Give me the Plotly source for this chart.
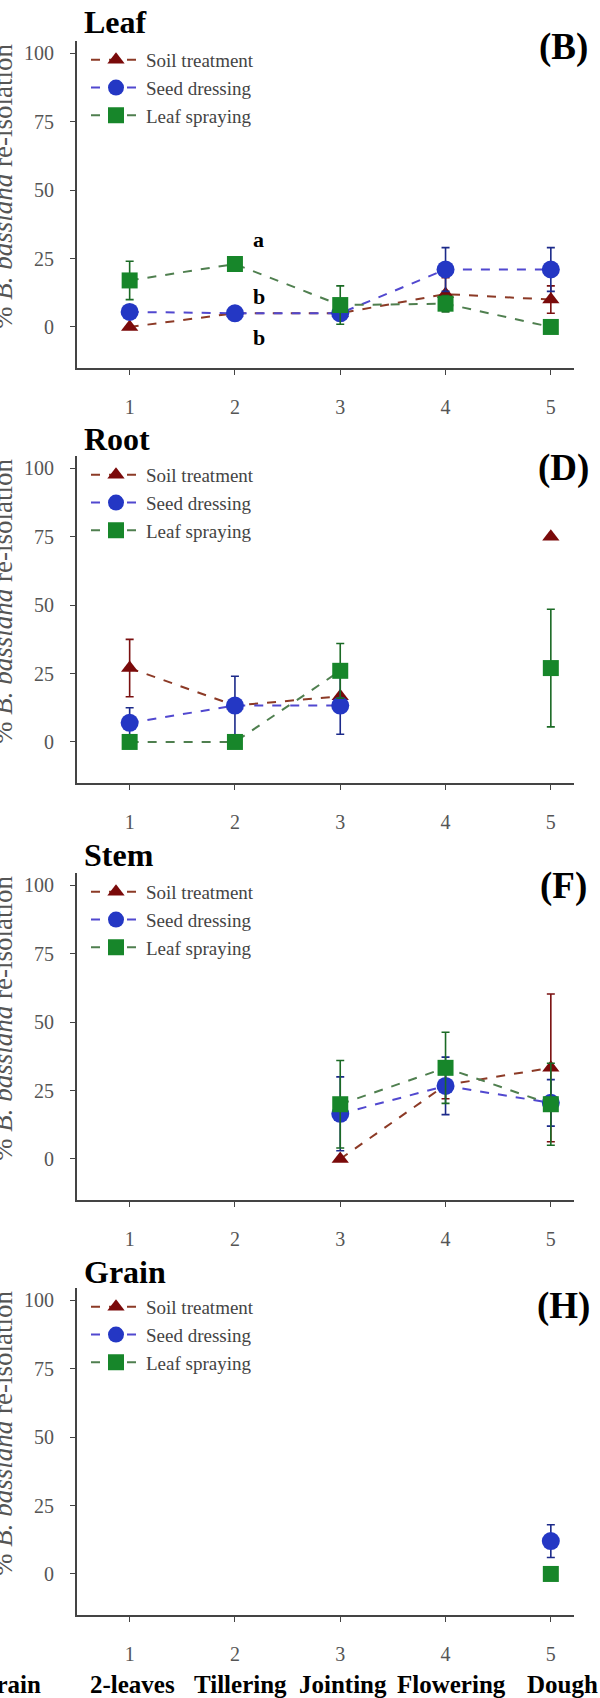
import plotly.graph_objects as go

# ---------------- data ----------------
stages = [1, 2, 3, 4, 5]
series_names = ["Soil treatment", "Seed dressing", "Leaf spraying"]

panel_titles = ["Leaf", "Root", "Stem", "Grain"]
panel_letters = ["(B)", "(D)", "(F)", "(H)"]

# Leaf (B)
leaf_soil = [0, 5, 5, 12, 10]
leaf_soil_err = [0, 0, 0, 6, 5]
leaf_seed = [5.5, 5, 5, 21, 21]
leaf_seed_err = [0, 0, 0, 8, 8]
leaf_spray = [17, 23, 8, 8.5, 0]
leaf_spray_err = [7, 1, 7, 3, 0]

# Root (D)
root_soil = [27, 13.3, 16.7, None, 75]
root_soil_err = [10.5, 0, 0, 0, 0]
root_seed = [7, 13.3, 13.3, None, None]
root_seed_err = [5.5, 10.7, 10.5, 0, 0]
root_spray = [0, 0, 26, None, 27]
root_spray_err = [0, 0, 10, 0, 21.5]

# Stem (F)
stem_soil = [None, None, 0, 27, 33.3]
stem_soil_err = [0, 0, 0, 5, 27]
stem_seed = [None, None, 16.5, 26.7, 20.5]
stem_seed_err = [0, 0, 13.5, 10.5, 8.5]
stem_spray = [None, None, 20, 33.3, 20]
stem_spray_err = [0, 0, 16, 13, 15]

# Grain (H)
grain_soil = [None, None, None, None, None]
grain_soil_err = [0, 0, 0, 0, 0]
grain_seed = [None, None, None, None, 12]
grain_seed_err = [0, 0, 0, 0, 6]
grain_spray = [None, None, None, None, 0]
grain_spray_err = [0, 0, 0, 0, 0]

panels = [
    [(leaf_soil, leaf_soil_err), (leaf_seed, leaf_seed_err), (leaf_spray, leaf_spray_err)],
    [(root_soil, root_soil_err), (root_seed, root_seed_err), (root_spray, root_spray_err)],
    [(stem_soil, stem_soil_err), (stem_seed, stem_seed_err), (stem_spray, stem_spray_err)],
    [(grain_soil, grain_soil_err), (grain_seed, grain_seed_err), (grain_spray, grain_spray_err)],
]

y_ticks = [0, 25, 50, 75, 100]
stage_labels = ["Grain", "2-leaves", "Tillering", "Jointing", "Flowering", "Dough"]

# letters of significance in Leaf panel at stage 2
sig_letters = ["a", "b", "b"]
sig_y = [32, 11, -4]

# ---------------- styles ----------------
W, H = 600, 1698
SERIF = "Liberation Serif"
marker_symbols = ["triangle-up", "circle", "square"]
marker_sizes = [15, 18, 16]
marker_colors = ["#7a0a0a", "#2437c4", "#17862a"]
line_colors = ["#8c3a26", "#5148cf", "#4f7f4f"]
err_colors = ["#7a1010", "#1c2a8a", "#1b6a25"]

bottoms = [368, 783, 1200, 1615]   # px of x-axis line
plot_h = 327
x_left, x_right = 77, 574
title_y = [22, 439, 855, 1272]
letter_y = [47, 468, 886, 1306]


def py(p):
    return 1 - p / H


def px(p):
    return p / W


fig = go.Figure()
layout = dict(
    width=W, height=H,
    margin=dict(l=0, r=0, t=0, b=0),
    paper_bgcolor="white", plot_bgcolor="white",
    showlegend=True,
    font=dict(family=SERIF, color="#444"),
)
annotations = []

for i, pdata in enumerate(panels):
    k = "" if i == 0 else str(i + 1)
    xa, ya = "x" + k, "y" + k
    leg = "legend" + k
    for s, (vals, errs) in enumerate(pdata):
        fig.add_trace(go.Scatter(
            x=stages, y=vals,
            mode="lines+markers",
            name=series_names[s],
            xaxis=xa, yaxis=ya, legend=leg,
            line=dict(color=line_colors[s], width=2, dash="dash"),
            marker=dict(symbol=marker_symbols[s], size=marker_sizes[s],
                        color=marker_colors[s]),
            error_y=dict(type="data", array=errs, visible=True,
                         color=err_colors[s], thickness=1.6, width=4),
            connectgaps=False,
        ))
    b = bottoms[i]
    t = b - plot_h
    layout["xaxis" + k] = dict(
        domain=[px(x_left), px(x_right)], anchor=ya, range=[0.5, 5.22],
        tickvals=stages, ticktext=[str(v) for v in stages],
        showline=True, linecolor="#444", linewidth=2, ticks="outside",
        ticklen=5, tickcolor="#444", showgrid=False, zeroline=False,
        tickfont=dict(family=SERIF, size=20, color="#555"),
        ticklabelstandoff=15, fixedrange=True,
    )
    layout["yaxis" + k] = dict(
        domain=[py(b), py(t)], anchor=xa, range=[-15, 104.5],
        tickvals=y_ticks,
        showline=True, linecolor="#444", linewidth=2, ticks="outside",
        ticklen=5, tickcolor="#444", showgrid=False, zeroline=False,
        tickfont=dict(family=SERIF, size=20, color="#555"),
        ticklabelstandoff=12, fixedrange=True,
    )
    layout[leg] = dict(
        x=px(86), y=py(t), xanchor="left", yanchor="top",
        bgcolor="rgba(0,0,0,0)", borderwidth=0,
        font=dict(family=SERIF, size=19, color="#444"),
        itemwidth=50, tracegroupgap=0,
    )
    annotations.append(dict(
        text="<b>%s</b>" % panel_titles[i], xref="paper", yref="paper",
        x=px(82), y=py(title_y[i]), xanchor="left", yanchor="middle",
        showarrow=False, font=dict(family=SERIF, size=32, color="black"),
    ))
    annotations.append(dict(
        text="<b>%s</b>" % panel_letters[i], xref="paper", yref="paper",
        x=px(563), y=py(letter_y[i]), xanchor="center", yanchor="middle",
        showarrow=False, font=dict(family=SERIF, size=37, color="black"),
    ))
    annotations.append(dict(
        text="% <i>B. bassiana</i> re-isolation", xref="paper", yref="paper",
        x=px(3), y=py(b - 181), xanchor="center", yanchor="middle",
        textangle=-90, showarrow=False,
        font=dict(family=SERIF, size=27, color="#555"),
    ))

for lt, yv in zip(sig_letters, sig_y):
    annotations.append(dict(
        text="<b>%s</b>" % lt, xref="x", yref="y", x=2.15, y=yv,
        xanchor="left", yanchor="middle", showarrow=False,
        font=dict(family=SERIF, size=22, color="black"),
    ))

# bottom stage labels
label_x = [43, 132, 240, 343, 451, 562]
for j, lab in enumerate(stage_labels):
    annotations.append(dict(
        text="<b>%s</b>" % lab, xref="paper", yref="paper",
        x=px(label_x[j]), y=py(1684),
        xanchor="right" if j == 0 else "center", yanchor="middle",
        showarrow=False, font=dict(family=SERIF, size=25, color="black"),
    ))

layout["annotations"] = annotations
fig.update_layout(**layout)
fig.write_html("out.html")
